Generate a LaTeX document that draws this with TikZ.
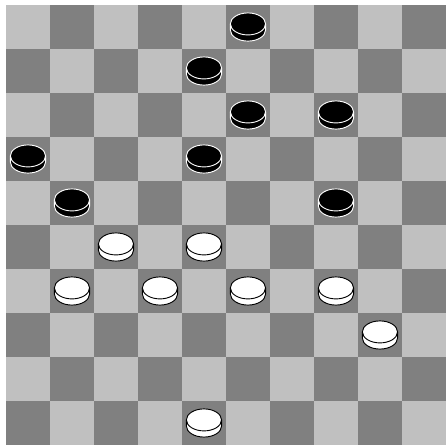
\documentclass[tikz,border=0pt]{standalone}
\usepackage{tikz}

\definecolor{lightsq}{RGB}{192,192,192}
\definecolor{darksq}{RGB}{128,128,128}

\begin{document}
\begin{tikzpicture}[
    light/.style    = {fill=lightsq},
    dark/.style     = {fill=darksq},
    blackman/.style = {fill=black, draw=white, line width=0.6pt},
    whiteman/.style = {fill=white, draw=black, line width=0.6pt},
  ]
  \useasboundingbox[fill=white] (-0.136,-0.023) rectangle (10,10.114);
  % board, row 0 on top
  \fill[light] (0,0) rectangle (10,10);
  \foreach \r in {0,...,9}{
    \foreach \c in {0,2,...,8}{
      \fill[dark] ({\c+mod(\r+1,2)},{9-\r}) rectangle +(1,1);
    }
  }
  % black men
  \foreach \c/\r in {5/0,4/1,5/2,7/2,0/3,4/3,1/4,7/4}{
    \begin{scope}[shift={({\c+0.5},{9.5-\r})}]
      \draw[blackman] (-0.4,0.07) -- (-0.4,-0.07)
        arc[start angle=180, end angle=360, x radius=0.4, y radius=0.25]
        -- (0.4,0.07);
      \draw[blackman] (0,0.07) ellipse[x radius=0.4, y radius=0.25];
    \end{scope}
  }
  % white men
  \foreach \c/\r in {2/5,4/5,1/6,3/6,5/6,7/6,8/7,4/9}{
    \begin{scope}[shift={({\c+0.5},{9.5-\r})}]
      \draw[whiteman] (-0.4,0.07) -- (-0.4,-0.07)
        arc[start angle=180, end angle=360, x radius=0.4, y radius=0.25]
        -- (0.4,0.07);
      \draw[whiteman] (0,0.07) ellipse[x radius=0.4, y radius=0.25];
    \end{scope}
  }
\end{tikzpicture}
\end{document}
